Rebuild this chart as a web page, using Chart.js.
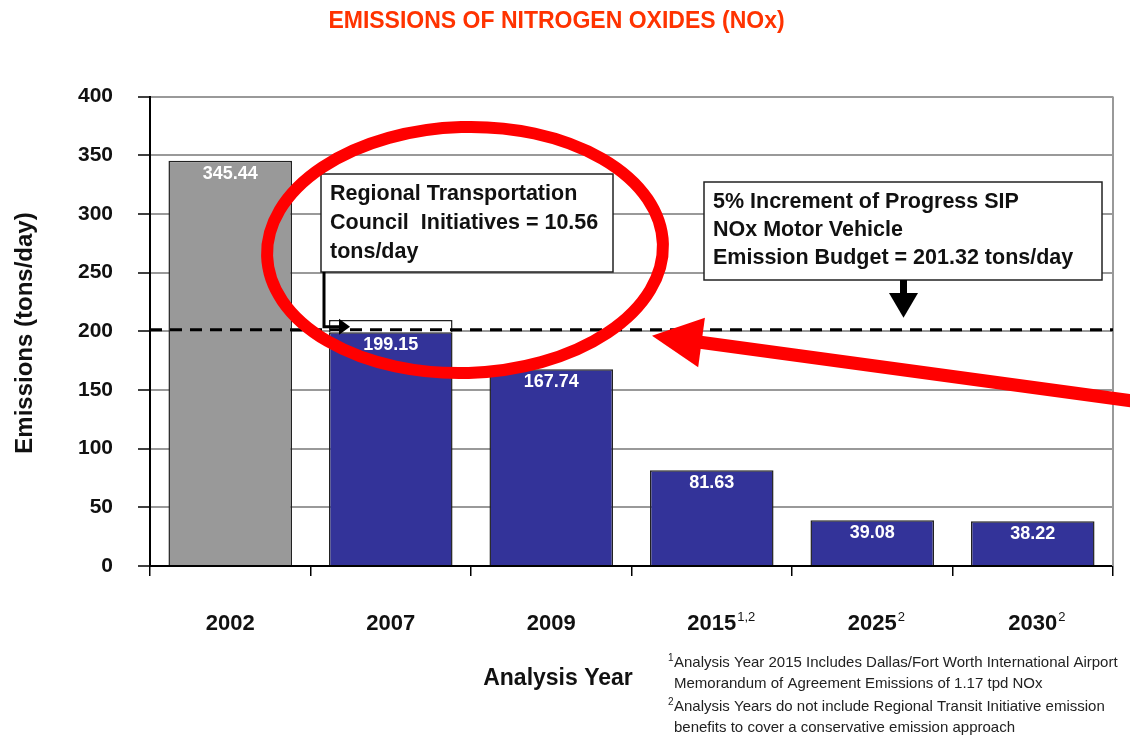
<!DOCTYPE html>
<html>
<head>
<meta charset="utf-8">
<script src="https://cdn.jsdelivr.net/npm/chart.js@4/dist/chart.umd.min.js"></script>
<style>
html,body{margin:0;padding:0;background:#fff;}
#wrap{width:1130px;height:741px;position:relative;}
</style>
</head>
<body>
<div id="wrap"><canvas id="c" width="1130" height="741"></canvas></div>
<script>
const categories = ['2002', '2007', '2009', '2015', '2025', '2030'];
const superscripts = ['', '', '', '1,2', '2', '2'];
const emissions = [345.44, 199.15, 167.74, 81.63, 39.08, 38.22];
const rtcInitiatives = [null, 10.56, null, null, null, null];
const budget = 201.32;
const yTicks = [0, 50, 100, 150, 200, 250, 300, 350, 400];
const barColors = ['#999999', '#333399', '#333399', '#333399', '#333399', '#333399'];
const valueLabels = ['345.44', '199.15', '167.74', '81.63', '39.08', '38.22'];
const footnotes = [
  ['1', 'Analysis Year 2015 Includes Dallas/Fort Worth International Airport'],
  ['', 'Memorandum of Agreement Emissions of 1.17 tpd NOx'],
  ['2', 'Analysis Years do not include Regional Transit Initiative emission'],
  ['', 'benefits to cover a conservative emission approach']
];
const rtcText = ['Regional Transportation', 'Council  Initiatives = 10.56', 'tons/day'];
const budgetText = ['5% Increment of Progress SIP', 'NOx Motor Vehicle', 'Emission Budget = 201.32 tons/day'];

const FONT = '"Liberation Sans", Arial, sans-serif';

const overlay = {
  id: 'overlay',
  afterDatasetsDraw(chart) {
    const ctx = chart.ctx;
    const ca = chart.chartArea;
    const xs = chart.scales.x, ys = chart.scales.y;
    ctx.save();
    // right border
    ctx.strokeStyle = '#999';
    ctx.lineWidth = 2;
    ctx.beginPath(); ctx.moveTo(ca.right, ca.top); ctx.lineTo(ca.right, ca.bottom); ctx.stroke();

    // value labels
    const meta = chart.getDatasetMeta(0);
    ctx.fillStyle = '#fff';
    ctx.font = 'bold 18px ' + FONT;
    ctx.textAlign = 'center';
    ctx.textBaseline = 'middle';
    meta.data.forEach((bar, i) => {
      ctx.fillText(valueLabels[i], bar.x, bar.y + 13);
    });

    // dashed budget line
    const by = ys.getPixelForValue(budget);
    ctx.strokeStyle = '#000';
    ctx.lineWidth = 3;
    ctx.setLineDash([12, 8]);
    ctx.beginPath(); ctx.moveTo(ca.left, by); ctx.lineTo(ca.right, by); ctx.stroke();
    ctx.setLineDash([]);

    // annotation boxes
    function box(x, y, w, h, lines, lh) {
      ctx.fillStyle = '#fff';
      ctx.fillRect(x, y, w, h);
      ctx.strokeStyle = '#222';
      ctx.lineWidth = 1.5;
      ctx.strokeRect(x, y, w, h);
      ctx.fillStyle = '#111';
      ctx.font = 'bold 21.5px ' + FONT;
      ctx.textAlign = 'left';
      ctx.textBaseline = 'middle';
      lines.forEach((t, i) => ctx.fillText(t, x + 9, y + 20 + i * lh));
    }
    box(321, 174, 292, 98, rtcText, 29);
    box(704, 182, 398, 98, budgetText, 28);

    // black arrow from RTC box
    const ay = by - 3;
    ctx.strokeStyle = '#000';
    ctx.lineWidth = 3;
    ctx.beginPath(); ctx.moveTo(324, 272); ctx.lineTo(324, ay); ctx.lineTo(342, ay); ctx.stroke();
    ctx.fillStyle = '#000';
    ctx.beginPath(); ctx.moveTo(350, ay); ctx.lineTo(339, ay - 8); ctx.lineTo(339, ay + 8); ctx.closePath(); ctx.fill();

    // black arrow from budget box
    ctx.fillRect(900, 280, 7, 16);
    ctx.beginPath(); ctx.moveTo(889, 293); ctx.lineTo(918, 293); ctx.lineTo(903.5, by - 12); ctx.closePath(); ctx.fill();

    // red ellipse
    ctx.strokeStyle = '#ff0000';
    ctx.lineWidth = 12;
    ctx.beginPath();
    ctx.ellipse(465, 250, 198, 123, -0.03, 0, Math.PI * 2);
    ctx.stroke();

    // red arrow
    const tx = 652, ty = by + 6;
    const sx = 1140, sy = 402;
    const dx = tx - sx, dy = ty - sy;
    const L = Math.hypot(dx, dy);
    const ux = dx / L, uy = dy / L;
    const hl = 50, hw = 25;
    const bx = tx - ux * hl, byy = ty - uy * hl;
    ctx.lineWidth = 13;
    ctx.lineCap = 'butt';
    ctx.beginPath(); ctx.moveTo(sx, sy); ctx.lineTo(bx + ux * 5, byy + uy * 5); ctx.stroke();
    ctx.fillStyle = '#ff0000';
    ctx.beginPath();
    ctx.moveTo(tx, ty);
    ctx.lineTo(bx - uy * hw, byy + ux * hw);
    ctx.lineTo(bx + uy * hw, byy - ux * hw);
    ctx.closePath(); ctx.fill();

    // superscripts on x labels
    ctx.fillStyle = '#111';
    ctx.textBaseline = 'middle';
    categories.forEach((c, i) => {
      if (!superscripts[i]) return;
      ctx.font = 'bold 22px ' + FONT;
      const w = ctx.measureText(c).width;
      const cx = xs.getPixelForValue(i);
      ctx.font = '13px ' + FONT;
      ctx.textAlign = 'left';
      ctx.fillText(superscripts[i], cx + w / 2 + 1, 617);
    });

    // axis titles
    ctx.fillStyle = '#111';
    ctx.font = 'bold 23px ' + FONT;
    ctx.textAlign = 'center';
    ctx.fillText('Analysis Year', 558, 679);
    ctx.save();
    ctx.translate(25, 333);
    ctx.rotate(-Math.PI / 2);
    ctx.font = 'bold 24px ' + FONT;
    ctx.fillText('Emissions (tons/day)', 0, 0);
    ctx.restore();

    // footnotes
    ctx.textAlign = 'left';
    const fy = [663, 684, 707, 728];
    footnotes.forEach((f, i) => {
      ctx.fillStyle = '#222';
      if (f[0]) {
        ctx.font = '10px ' + FONT;
        ctx.fillText(f[0], 668, fy[i] - 5);
      }
      ctx.font = '15px ' + FONT;
      ctx.fillText(f[1], 674, fy[i]);
    });
    ctx.restore();
  }
};

new Chart(document.getElementById('c'), {
  type: 'bar',
  data: {
    labels: categories,
    datasets: [
      {
        label: 'Emissions',
        data: emissions,
        backgroundColor: barColors,
        borderColor: '#222',
        borderWidth: 1.5,
        categoryPercentage: 1,
        barPercentage: 0.77
      },
      {
        label: 'RTC Initiatives',
        data: rtcInitiatives,
        backgroundColor: '#ffffff',
        borderColor: '#222',
        borderWidth: 1.5,
        categoryPercentage: 1,
        barPercentage: 0.77
      }
    ]
  },
  options: {
    responsive: false,
    animation: false,
    layout: { padding: { left: 0, right: 17, top: 0, bottom: 0 } },
    plugins: {
      legend: { display: false },
      tooltip: { enabled: false },
      title: {
        display: true,
        text: 'EMISSIONS OF NITROGEN OXIDES (NOx)',
        color: '#ff3300',
        font: { family: FONT, size: 23, weight: 'bold' },
        padding: { top: 8, bottom: 61 }
      }
    },
    scales: {
      x: {
        stacked: true,
        grid: { display: true, drawOnChartArea: false, drawTicks: true, tickLength: 10, tickColor: '#000', lineWidth: 1.5, offset: true },
        border: { color: '#000', width: 2 },
        ticks: { color: '#111', font: { family: FONT, size: 22, weight: 'bold' }, padding: 35, maxRotation: 0 },
        afterFit(scale) { scale.height = 175; }
      },
      y: {
        stacked: true,
        min: 0,
        max: 400,
        afterBuildTicks(scale) { scale.ticks = yTicks.map(v => ({ value: v })); },
        grid: { color: '#999', lineWidth: 2, tickLength: 12, tickColor: '#000', tickWidth: 1.5 },
        border: { color: '#000', width: 2 },
        ticks: { color: '#111', font: { family: FONT, size: 21, weight: 'bold' }, padding: 25 },
        afterFit(scale) { scale.width = 150; }
      }
    }
  },
  plugins: [overlay]
});
</script>
</body>
</html>
